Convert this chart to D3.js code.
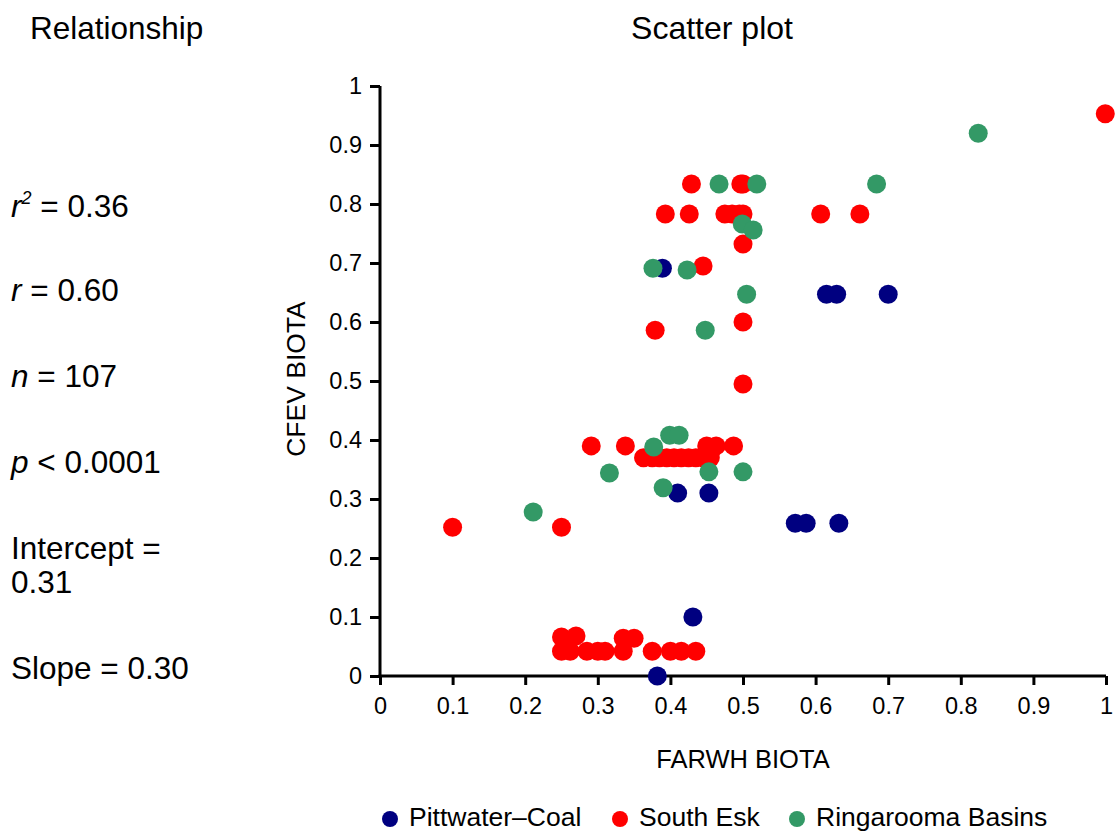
<!DOCTYPE html>
<html>
<head>
<meta charset="utf-8">
<script src="https://cdn.jsdelivr.net/npm/d3@7"></script>
<style>
  html, body { margin: 0; padding: 0; background: #fff; }
  svg { display: block; font-family: "Liberation Sans", Arial, Helvetica, sans-serif; }
</style>
</head>
<body>
<script>
// FARWH vs CFEV biota scores, by basin group
const seriesNames = ["Pittwater\u2013Coal", "South Esk", "Ringarooma Basins"];
const seriesColors = ["#000080", "#ff0000", "#339966"];

const pittwaterX = [0.389, 0.615, 0.629, 0.700, 0.410, 0.453, 0.572, 0.587, 0.632, 0.431, 0.382];
const pittwaterY = [0.691, 0.647, 0.647, 0.647, 0.310, 0.310, 0.259, 0.259, 0.259, 0.100, 0.000];

const southEskX = [0.999,
  0.429, 0.497, 0.500,
  0.393, 0.426, 0.475, 0.485, 0.495, 0.500, 0.607, 0.661,
  0.500, 0.445, 0.500, 0.379, 0.500,
  0.291, 0.338, 0.450, 0.463, 0.487,
  0.363, 0.375, 0.385, 0.395, 0.405, 0.415, 0.425, 0.435, 0.445, 0.455, 0.455,
  0.100, 0.250,
  0.250, 0.270, 0.335, 0.350,
  0.250, 0.262, 0.285, 0.300, 0.310, 0.335, 0.375, 0.400, 0.415, 0.435];
const southEskY = [0.953,
  0.834, 0.834, 0.834,
  0.783, 0.783, 0.783, 0.783, 0.783, 0.783, 0.783, 0.783,
  0.732, 0.695, 0.600, 0.586, 0.495,
  0.390, 0.390, 0.390, 0.390, 0.390,
  0.370, 0.370, 0.370, 0.370, 0.370, 0.370, 0.370, 0.370, 0.370, 0.370, 0.378,
  0.252, 0.252,
  0.066, 0.068, 0.064, 0.064,
  0.042, 0.042, 0.042, 0.042, 0.042, 0.042, 0.042, 0.042, 0.042, 0.042];

const ringaroomaX = [0.467, 0.519, 0.684, 0.824, 0.499, 0.514, 0.376, 0.423, 0.505, 0.448,
  0.377, 0.399, 0.412, 0.453, 0.500, 0.316, 0.390, 0.211];
const ringaroomaY = [0.834, 0.834, 0.834, 0.920, 0.766, 0.756, 0.691, 0.688, 0.647, 0.586,
  0.388, 0.408, 0.408, 0.346, 0.346, 0.344, 0.319, 0.278];

const tickValues = [0, 0.1, 0.2, 0.3, 0.4, 0.5, 0.6, 0.7, 0.8, 0.9, 1];
const tickLabels = ["0", "0.1", "0.2", "0.3", "0.4", "0.5", "0.6", "0.7", "0.8", "0.9", "1"];

// regression summary, one entry per printed line: [text, italic, superscript]
const statLines = [
  [["r", true], ["2", true, true], [" = 0.36", false]],
  [["r", true], [" = 0.60", false]],
  [["n", true], [" = 107", false]],
  [["p", true], [" < 0.0001", false]],
  [["Intercept =", false]],
  [["0.31", false]],
  [["Slope = 0.30", false]]
];
const statBaselines = [217, 301, 387, 473, 559, 593, 679];

const W = 1116, H = 832;
const svg = d3.select("body").append("svg").attr("width", W).attr("height", H);

const x = d3.scaleLinear().domain([0, 1]).range([380, 1106]);
const y = d3.scaleLinear().domain([0, 1]).range([676, 86]);

// headings
svg.append("text").attr("x", 30).attr("y", 39).attr("font-size", 31.5).text("Relationship");
svg.append("text").attr("x", 712).attr("y", 39).attr("font-size", 32).attr("text-anchor", "middle").text("Scatter plot");

// statistics column
statLines.forEach((parts, i) => {
  const t = svg.append("text").attr("x", 11).attr("y", statBaselines[i]).attr("font-size", 31.5);
  let raised = false;
  parts.forEach(p => {
    const s = t.append("tspan").text(p[0]);
    if (p[1]) s.attr("font-style", "italic");
    if (p[2]) { s.attr("font-size", 18).attr("dy", -13); raised = true; }
    else if (raised) { s.attr("dy", 13); raised = false; }
  });
});

// axes
const axisStroke = 3;
const yAxis = svg.append("g").attr("transform", `translate(${x(0)},0)`)
  .call(d3.axisLeft(y).tickValues(tickValues).tickFormat((d, i) => tickLabels[i]).tickSize(10).tickPadding(8));
const xAxis = svg.append("g").attr("transform", `translate(0,${y(0)})`)
  .call(d3.axisBottom(x).tickValues(tickValues).tickFormat((d, i) => tickLabels[i]).tickSize(9).tickPadding(12));
[xAxis, yAxis].forEach(g => {
  g.select(".domain").attr("stroke", "#000").attr("stroke-width", axisStroke)
    .attr("d", g === xAxis ? `M${x(0) - 1.5},0H${x(1)}` : `M0,${y(0) + 1.5}V${y(1)}`);
  g.selectAll(".tick line").attr("stroke", "#000").attr("stroke-width", axisStroke);
  g.selectAll(".tick text").attr("font-size", 23.5).attr("fill", "#000")
    .attr("font-family", "'Liberation Sans', Arial, sans-serif");
});

// axis titles
svg.append("text").attr("x", 743).attr("y", 768).attr("font-size", 25.5).attr("text-anchor", "middle").text("FARWH BIOTA");
svg.append("text").attr("transform", "translate(305,379) rotate(-90)").attr("font-size", 26.5)
  .attr("text-anchor", "middle").text("CFEV BIOTA");

// points
const series = [
  { xs: pittwaterX, ys: pittwaterY },
  { xs: southEskX, ys: southEskY },
  { xs: ringaroomaX, ys: ringaroomaY }
];
series.forEach((s, k) => {
  svg.append("g").selectAll("circle")
    .data(d3.zip(s.xs, s.ys))
    .join("circle")
    .attr("cx", d => x(d[0]))
    .attr("cy", d => y(d[1]))
    .attr("r", 9.5)
    .attr("fill", seriesColors[k]);
});

// legend
const legendDotX = [390, 620, 797];
const legend = svg.append("g");
seriesNames.forEach((name, k) => {
  legend.append("circle").attr("cx", legendDotX[k]).attr("cy", 819).attr("r", 8).attr("fill", seriesColors[k]);
  legend.append("text").attr("x", legendDotX[k] + 19).attr("y", 826).attr("font-size", 26.5).text(name);
});
</script>
</body>
</html>
